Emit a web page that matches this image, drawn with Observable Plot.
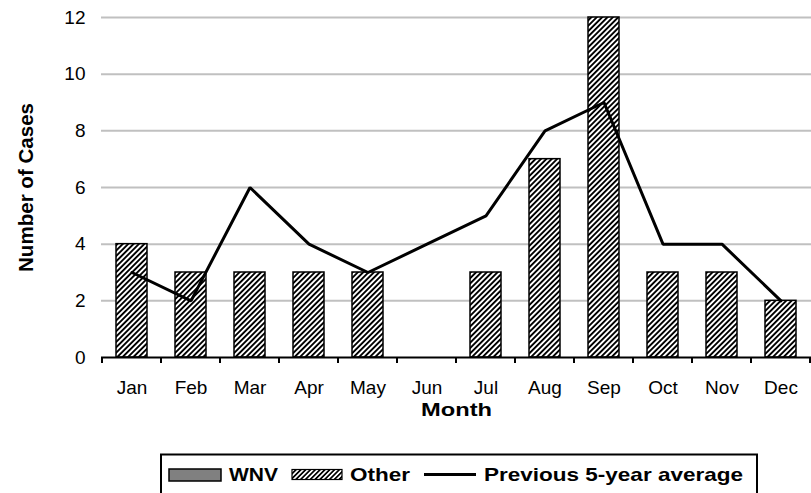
<!DOCTYPE html>
<html>
<head>
<meta charset="utf-8">
<script src="https://cdn.jsdelivr.net/npm/d3@7"></script>
<script src="https://cdn.jsdelivr.net/npm/@observablehq/plot@0.6"></script>
<style>
  body { margin: 0; background: #fff; font-family: "Liberation Sans", Arial, sans-serif; }
  #wrap { position: relative; width: 811px; height: 493px; overflow: hidden; }
</style>
</head>
<body>
<div id="wrap"></div>
<script>
const months = ["Jan","Feb","Mar","Apr","May","Jun","Jul","Aug","Sep","Oct","Nov","Dec"];
const wnv    = [0,0,0,0,0,0,0,0,0,0,0,0];
const other  = [4,3,3,3,3,0,3,7,12,3,3,2];
const avg5yr = [3,2,6,4,3,4,5,8,9,4,4,2];
const yTicks = [0,2,4,6,8,10,12];

const barData = [
  ...months.map((m, i) => ({month: m, series: "WNV", value: wnv[i]})),
  ...months.map((m, i) => ({month: m, series: "Other", value: other[i]}))
];
const lineData = months.map((m, i) => ({month: m, value: avg5yr[i]}));

const W = 811, H = 450, ML = 101, MR = 0, MT = 17, MB = 93;
const FONT = "'Liberation Sans', Arial, sans-serif";

const plot = Plot.plot({
  width: W, height: H,
  marginLeft: ML, marginRight: MR, marginTop: MT, marginBottom: MB,
  style: {fontFamily: FONT, fontSize: "19px", color: "#000", background: "#fff", overflow: "visible"},
  x: {domain: months, paddingInner: 0.48, paddingOuter: 0.24},
  y: {domain: [0, 12]},
  marks: [
    Plot.ruleY(yTicks.filter(d => d > 0), {stroke: "#c0c0c0", strokeWidth: 2}),
    Plot.axisY({ticks: yTicks, tickSize: 0, tickPadding: 16, label: null, fontSize: 19}),
    Plot.axisX({tickSize: 0, tickPadding: 23, label: null, fontSize: 19}),
    Plot.barY(barData, Plot.stackY({
      x: "month", y: "value", z: "series", order: ["WNV", "Other"],
      fill: d => d.series === "WNV" ? "#808080" : "url(#hatch)",
      stroke: d => d.value > 0 ? "#000" : "none", strokeWidth: 1.5
    })),
    Plot.line(lineData, {x: "month", y: "value", stroke: "#000", strokeWidth: 3, strokeLinejoin: "miter"}),
    Plot.ruleY([0], {stroke: "#000", strokeWidth: 2}),
    Plot.text(["Number of Cases"], {frameAnchor: "left", textAnchor: "middle", lineAnchor: "middle", rotate: -90, dx: -75, fontWeight: "bold", fontSize: 20.5, className: "ylab"}),
    Plot.text(["Month"], {frameAnchor: "bottom", textAnchor: "middle", lineAnchor: "middle", dy: 52, fontWeight: "bold", fontSize: 19, className: "xlab"})
  ]
});

const svg = d3.select(plot);
// stretch the axis title widths to match the reference
svg.selectAll(".xlab text").attr("textLength", 71).attr("lengthAdjust", "spacingAndGlyphs");
svg.selectAll(".ylab text").attr("textLength", 169).attr("lengthAdjust", "spacingAndGlyphs");

// hatch pattern
const defs = svg.insert("defs", ":first-child");
const pat = defs.append("pattern")
  .attr("id", "hatch").attr("patternUnits", "userSpaceOnUse")
  .attr("width", 3.8).attr("height", 3.8)
  .attr("patternTransform", "rotate(45)");
pat.append("rect").attr("width", 3.8).attr("height", 3.8).attr("fill", "#fff");
pat.append("rect").attr("width", 1.9).attr("height", 3.8).attr("fill", "#000");

// category-boundary ticks below the axis, from the library's band scale
const xs = plot.scale("x");
const ys = plot.scale("y");
const step = xs.step;
const y0 = ys.apply(0);
const bounds = months.map(m => xs.apply(m) + xs.bandwidth / 2 - step / 2);
bounds.push(xs.apply(months[months.length - 1]) + xs.bandwidth / 2 + step / 2);
const tg = svg.append("g").attr("stroke", "#000").attr("stroke-width", 2);
bounds.forEach(b => {
  tg.append("line").attr("x1", b).attr("x2", b).attr("y1", y0).attr("y2", y0 + 6);
});

const wrap = document.getElementById("wrap");
wrap.appendChild(plot);

// legend
const leg = d3.create("svg").attr("width", W).attr("height", 493)
  .style("position", "absolute").style("left", "0px").style("top", "0px");
const ldefs = leg.append("defs");
const lp = ldefs.append("pattern")
  .attr("id", "hatchL").attr("patternUnits", "userSpaceOnUse")
  .attr("width", 3.4).attr("height", 3.4)
  .attr("patternTransform", "rotate(45)");
lp.append("rect").attr("width", 3.4).attr("height", 3.4).attr("fill", "#fff");
lp.append("rect").attr("width", 1.7).attr("height", 3.4).attr("fill", "#000");
leg.append("rect").attr("x", 161).attr("y", 454.5).attr("width", 596).attr("height", 45)
  .attr("fill", "#fff").attr("stroke", "#000").attr("stroke-width", 2);
leg.append("rect").attr("x", 169).attr("y", 469).attr("width", 52).attr("height", 12)
  .attr("fill", "#808080").attr("stroke", "#000").attr("stroke-width", 1.5);
leg.append("text").attr("x", 229).attr("y", 481).text("WNV").attr("textLength", 49);
leg.append("rect").attr("x", 292).attr("y", 469.5).attr("width", 50).attr("height", 10)
  .attr("fill", "url(#hatchL)").attr("stroke", "#000").attr("stroke-width", 1.2);
leg.append("text").attr("x", 350).attr("y", 481).text("Other").attr("textLength", 60);
leg.append("line").attr("x1", 424).attr("x2", 476).attr("y1", 474.5).attr("y2", 474.5)
  .attr("stroke", "#000").attr("stroke-width", 3);
leg.append("text").attr("x", 484).attr("y", 481).text("Previous 5-year average").attr("textLength", 259);
leg.selectAll("text").attr("font-family", FONT).attr("lengthAdjust", "spacingAndGlyphs")
  .attr("font-weight", "bold").attr("font-size", 18.5).attr("fill", "#000");
wrap.appendChild(leg.node());
</script>
</body>
</html>
